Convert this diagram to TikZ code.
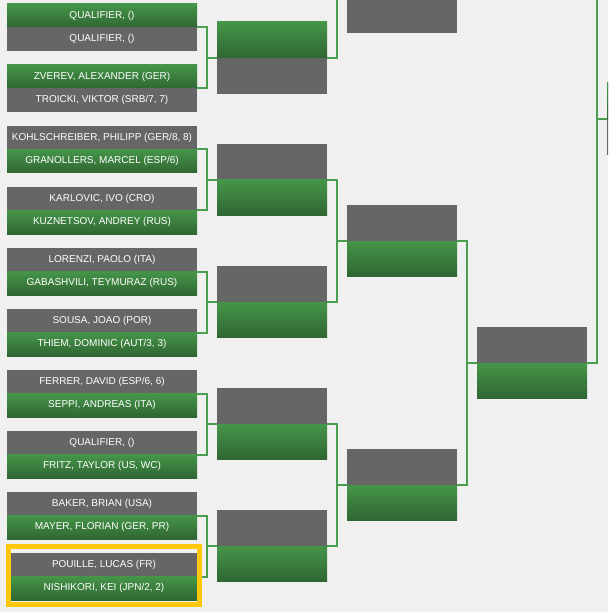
\documentclass[tikz,border=0pt]{standalone}
\usepackage{fontspec}
\setmainfont{Liberation Sans}
\definecolor{bg}{HTML}{F0F0F0}
\definecolor{boxgray}{HTML}{666666}
\definecolor{gtop}{HTML}{489C4C}
\definecolor{gbot}{HTML}{2A5A2D}
\definecolor{ln}{HTML}{4A9E4F}
\definecolor{gold}{HTML}{FFC80A}
\pgfdeclareverticalshading{greenv}{100bp}{color(0bp)=(gbot); color(12bp)=(gbot); color(82bp)=(gtop); color(100bp)=(gtop)}
\tikzset{
  cell/.style={inner sep=0pt, outer sep=0pt, minimum width=190pt, minimum height=23.5pt, text=white, font=\fontsize{10}{12}\selectfont, anchor=north west},
  gcell/.style={cell, shading=greenv},
  kcell/.style={cell, fill=boxgray},
  hcell/.style={minimum width=186pt},
  wbox/.style={inner sep=0pt, outer sep=0pt, minimum width=110pt, anchor=north west},
  kbox/.style={wbox, minimum height=72pt, fill=boxgray},
  gtopbox/.style={wbox, minimum height=36pt, shading=greenv},
  gbotbox/.style={wbox, minimum height=35pt, shading=greenv},
  conn/.style={draw=ln, line width=2pt},
}
\begin{document}
\begin{tikzpicture}[x=1pt,y=-1pt]
\clip (0,0) rectangle (608,612);
\fill[bg] (0,0) rectangle (608,612);

% ---------- round 1 ----------
\node[gcell] (m1a) at (7,4) {QUALIFIER, ()};
\node[kcell] (m1b) at (7,27.5) {QUALIFIER, ()};
\node[gcell] (m2a) at (7,65) {ZVEREV, ALEXANDER (GER)};
\node[kcell] (m2b) at (7,88.5) {TROICKI, VIKTOR (SRB/7, 7)};
\node[kcell] (m3a) at (7,126) {KOHLSCHREIBER, PHILIPP (GER/8, 8)};
\node[gcell] (m3b) at (7,149.5) {GRANOLLERS, MARCEL (ESP/6)};
\node[kcell] (m4a) at (7,187) {KARLOVIC, IVO (CRO)};
\node[gcell] (m4b) at (7,210.5) {KUZNETSOV, ANDREY (RUS)};
\node[kcell] (m5a) at (7,248) {LORENZI, PAOLO (ITA)};
\node[gcell] (m5b) at (7,271.5) {GABASHVILI, TEYMURAZ (RUS)};
\node[kcell] (m6a) at (7,309) {SOUSA, JOAO (POR)};
\node[gcell] (m6b) at (7,332.5) {THIEM, DOMINIC (AUT/3, 3)};
\node[kcell] (m7a) at (7,370) {FERRER, DAVID (ESP/6, 6)};
\node[gcell] (m7b) at (7,393.5) {SEPPI, ANDREAS (ITA)};
\node[kcell] (m8a) at (7,431) {QUALIFIER, ()};
\node[gcell] (m8b) at (7,454.5) {FRITZ, TAYLOR (US, WC)};
\node[kcell] (m9a) at (7,492) {BAKER, BRIAN (USA)};
\node[gcell] (m9b) at (7,515.5) {MAYER, FLORIAN (GER, PR)};
\node[kcell, hcell] (m10a) at (11,553) {POUILLE, LUCAS (FR)};
\node[gcell, hcell] (m10b) at (11,576.5) {NISHIKORI, KEI (JPN/2, 2)};

% ---------- round 2 ----------
\node[kbox] (r2_1) at (217,22) {};
\node[gtopbox] (r2g_1) at (217,22) {};
\node[kbox] (r2_2) at (217,144) {};
\node[gbotbox] (r2g_2) at (217,180) {};
\node[kbox] (r2_3) at (217,266) {};
\node[gbotbox] (r2g_3) at (217,302) {};
\node[kbox] (r2_4) at (217,388) {};
\node[gbotbox] (r2g_4) at (217,424) {};
\node[kbox] (r2_5) at (217,510) {};
\node[gbotbox] (r2g_5) at (217,546) {};

% ---------- round 3 ----------
\node[kbox] (r3_1) at (347,-39) {};
\node[gtopbox] (r3g_1) at (347,-39) {};
\node[kbox] (r3_2) at (347,205) {};
\node[gbotbox] (r3g_2) at (347,241) {};
\node[kbox] (r3_3) at (347,449) {};
\node[gbotbox] (r3g_3) at (347,485) {};

% ---------- round 4 ----------
\node[kbox] (r4_1) at (477,327) {};
\node[gbotbox] (r4g_1) at (477,363) {};

% ---------- round 5 ----------
\node[kbox] (r5_1) at (607,83) {};
\node[gtopbox] (r5g_1) at (607,83) {};

% off-picture ends
\coordinate (r2_0) at (327,-64);
\coordinate (r4_0) at (587,-125);

% ---------- connectors ----------
\draw[conn] (m1a.south east) -- ++(10,0) |- (m2a.south east);
\draw[conn] (r2_1.west) -- ++(-10,0);
\draw[conn] (m3a.south east) -- ++(10,0) |- (m4a.south east);
\draw[conn] (r2_2.west) -- ++(-10,0);
\draw[conn] (m5a.south east) -- ++(10,0) |- (m6a.south east);
\draw[conn] (r2_3.west) -- ++(-10,0);
\draw[conn] (m7a.south east) -- ++(10,0) |- (m8a.south east);
\draw[conn] (r2_4.west) -- ++(-10,0);
\draw[conn] (m9a.south east) -- ++(10,0) |- (m10a.south east);
\draw[conn] (r2_5.west) -- ++(-10,0);

\draw[conn] (r2_0) -- ++(10,0) |- (r2_1.east);
\draw[conn] (r3_1.west) -- ++(-10,0);
\draw[conn] (r2_2.east) -- ++(10,0) |- (r2_3.east);
\draw[conn] (r3_2.west) -- ++(-10,0);
\draw[conn] (r2_4.east) -- ++(10,0) |- (r2_5.east);
\draw[conn] (r3_3.west) -- ++(-10,0);

\draw[conn] (r3_2.east) -- ++(10,0) |- (r3_3.east);
\draw[conn] (r4_1.west) -- ++(-10,0);

\draw[conn] (r4_0) -- ++(10,0) |- (r4_1.east);
\draw[conn] (r5_1.west) -- ++(-10,0);

% ---------- highlight ----------
\draw[gold, line width=5pt] (8.5,546.5) rectangle (199.5,604.5);
\end{tikzpicture}
\end{document}
